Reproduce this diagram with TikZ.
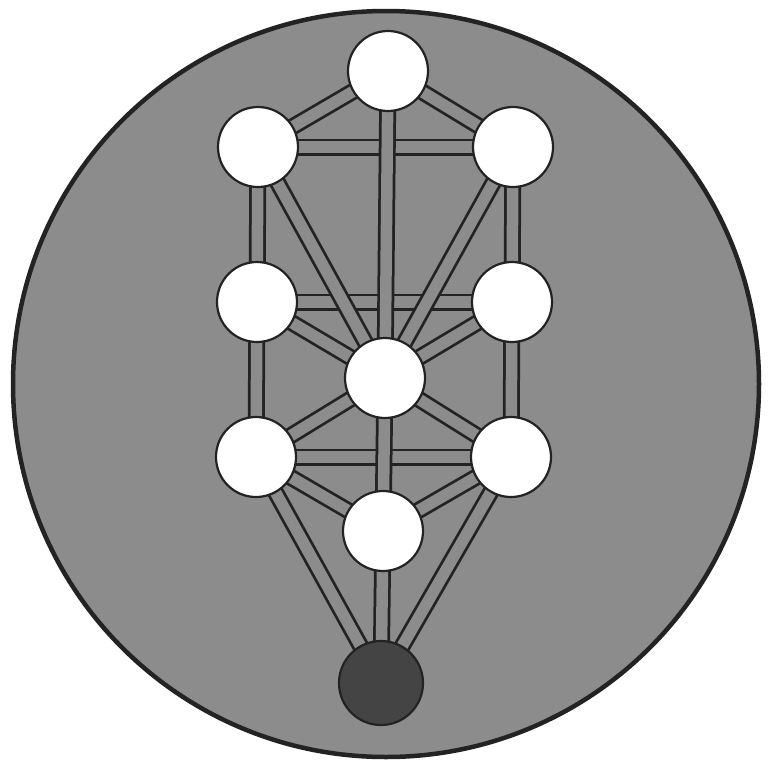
\documentclass[tikz,border=0pt]{standalone}
\begin{document}
\begin{tikzpicture}[x=1pt,y=-1pt,
  bg/.style={fill=bggray},
  pathout/.style={draw=edgedark,line width=17pt},
  pathin/.style={draw=bggray,line width=11.5pt},
  sefira/.style={circle,draw=edgedark,line width=2.2pt,fill=white,minimum size=80pt,inner sep=0pt},
  earth/.style={circle,draw=edgedark,line width=2.2pt,fill=earthgray,minimum size=84pt,inner sep=0pt}]
\definecolor{bggray}{RGB}{140,140,140}
\definecolor{edgedark}{RGB}{35,35,35}
\definecolor{earthgray}{RGB}{68,68,68}
\useasboundingbox (0,0) rectangle (769,764);
\fill[white] (0,0) rectangle (769,764);
\draw[bg,draw=edgedark,line width=4.5pt] (386,384) circle (373);
% node positions
\coordinate (ke) at (388,71);
\coordinate (ch) at (513,147);
\coordinate (bi) at (258,147);
\coordinate (cs) at (512,302);
\coordinate (ge) at (257,302);
\coordinate (ti) at (385,378);
\coordinate (ne) at (511,457);
\coordinate (ho) at (256,457);
\coordinate (ye) at (383,531);
\coordinate (ma) at (381,683);
% horizontal paths (underneath)
\foreach \s in {pathout,pathin}{
  \draw[\s] (bi) -- (ch);
  \draw[\s] (ge) -- (cs);
  \draw[\s] (ho) -- (ne);
}
% other paths
\foreach \s in {pathout,pathin}{
  \draw[\s] (ke) -- (ch);
  \draw[\s] (ke) -- (bi);
  \draw[\s] (ke) -- (ti);
  \draw[\s] (ch) -- (ti);
  \draw[\s] (ch) -- (cs);
  \draw[\s] (bi) -- (ti);
  \draw[\s] (bi) -- (ge);
  \draw[\s] (cs) -- (ti);
  \draw[\s] (cs) -- (ne);
  \draw[\s] (ge) -- (ti);
  \draw[\s] (ge) -- (ho);
  \draw[\s] (ti) -- (ne);
  \draw[\s] (ti) -- (ho);
  \draw[\s] (ti) -- (ye);
  \draw[\s] (ne) -- (ye);
  \draw[\s] (ne) -- (ma);
  \draw[\s] (ho) -- (ye);
  \draw[\s] (ho) -- (ma);
  \draw[\s] (ye) -- (ma);
}
% sefirot
\node[sefira] (kether) at (ke) {};
\node[sefira] (chokmah) at (ch) {};
\node[sefira] (binah) at (bi) {};
\node[sefira] (chesed) at (cs) {};
\node[sefira] (geburah) at (ge) {};
\node[sefira] (tiphareth) at (ti) {};
\node[sefira] (netzach) at (ne) {};
\node[sefira] (hod) at (ho) {};
\node[sefira] (yesod) at (ye) {};
\node[earth] (malkuth) at (ma) {};
\end{tikzpicture}
\end{document}
